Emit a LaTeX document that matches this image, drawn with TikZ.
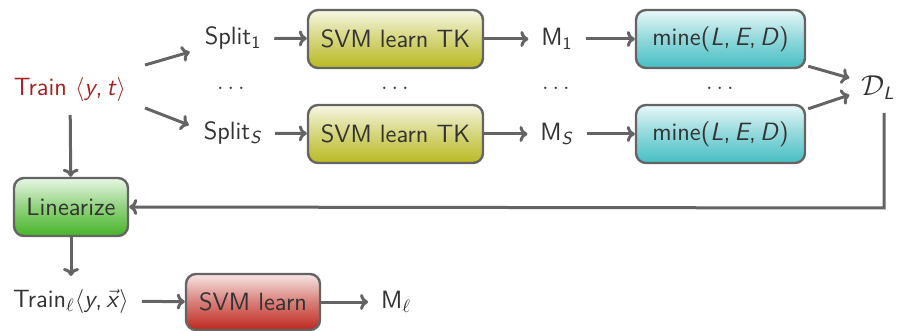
\documentclass[tikz,border=0pt]{standalone}
\usetikzlibrary{arrows.meta}
\renewcommand{\familydefault}{\sfdefault}
\definecolor{txt}{RGB}{51,51,51}
\definecolor{ln}{RGB}{100,100,100}
\definecolor{trainred}{RGB}{165,35,30}
\definecolor{yel}{RGB}{185,185,35}
\definecolor{cya}{RGB}{70,190,195}
\definecolor{grn}{RGB}{70,180,40}
\definecolor{rd}{RGB}{190,40,30}
\tikzset{
  lbl/.style={text=txt, inner sep=0pt, outer sep=6.5pt},
  dotlbl/.style={text=txt, inner sep=0pt},
  boxbase/.style={draw=ln, line width=1.2pt, rounded corners=5pt, text=txt, inner sep=0pt},
  yelbox/.style={boxbase, minimum width=87.5pt, minimum height=29pt, top color=yel!12, bottom color=yel, middle color=yel!60},
  cyabox/.style={boxbase, minimum width=84.5pt, minimum height=29pt, top color=cya!12, bottom color=cya, middle color=cya!60},
  grnbox/.style={boxbase, minimum width=57pt, minimum height=29pt, top color=grn!12, bottom color=grn, middle color=grn!60},
  rdbox/.style={boxbase, minimum width=67pt, minimum height=28pt, top color=rd!12, bottom color=rd, middle color=rd!60},
  arr/.style={draw=ln, line width=1.5pt, -{To[length=4pt,width=8pt]}},
}
\begin{document}
\begin{tikzpicture}[x=0.5pt,y=-0.5pt,font=\fontsize{12.5}{15}\selectfont]
\useasboundingbox (0,0) rectangle (899,331);
\node[lbl, text=trainred] (train) at (70,90) {Train $\langle$\textit{y},\,\textit{t}$\rangle$};
\node[lbl] (s1) at (233,38) {Split\textsubscript{1}};
\node[lbl] (sS) at (233,133) {Split\textsubscript{\textit{S}}};
\node[yelbox] (svm1) at (395.5,39) {SVM learn TK};
\node[yelbox] (svmS) at (395.5,134) {SVM learn TK};
\node[lbl] (m1) at (557,39) {M\textsubscript{1}};
\node[lbl] (mS) at (557,134) {M\textsubscript{\textit{S}}};
\node[cyabox] (mine1) at (720.5,39) {mine(\textit{L},\,\textit{E},\,\textit{D})};
\node[cyabox] (mineS) at (720.5,134) {mine(\textit{L},\,\textit{E},\,\textit{D})};
\node[lbl, font=\fontsize{14}{16}\selectfont] (dl) at (878,88) {$\mathcal{D}_{\textit{\small L}}$};
\node[dotlbl] (d1) at (231,88) {$\ldots$};
\node[dotlbl] (d2) at (395,88) {$\ldots$};
\node[dotlbl] (d3) at (556,88) {$\ldots$};
\node[dotlbl] (d4) at (720,88) {$\ldots$};
\node[grnbox] (lin) at (71,207) {Linearize};
\node[lbl] (trl) at (71,301) {Train$_\ell\langle$\textit{y},\,$\vec{\mbox{\textit{x}}}\rangle$};
\node[rdbox] (svml) at (253,302) {SVM learn};
\node[lbl] (ml) at (396,302) {M$_\ell$};
\coordinate (c) at (884,208);
\draw[arr] ([xshift=3pt,yshift=12.5pt]train.east) -- ([xshift=-1pt,yshift=-7pt]s1.west);
\draw[arr] ([xshift=3pt,yshift=-9pt]train.east) -- ([xshift=-1pt,yshift=4pt]sS.west);
\draw[arr] (s1) -- (svm1);
\draw[arr] (sS) -- (svmS);
\draw[arr] (svm1) -- (m1);
\draw[arr] (svmS) -- (mS);
\draw[arr] (m1) -- (mine1);
\draw[arr] (mS) -- (mineS);
\draw[arr] ([xshift=1pt,yshift=1.5pt]mine1.south east) -- ([xshift=0.5pt,yshift=5pt]dl.west);
\draw[arr] ([xshift=1pt,yshift=-2.5pt]mineS.north east) -- ([xshift=0.5pt,yshift=-3.5pt]dl.west);
\draw[arr] (train) -- (lin);
\draw[arr] (dl.south -| c) -- (c) -- (lin.east);
\draw[arr] (lin) -- (trl);
\draw[arr] (trl) -- (svml);
\draw[arr] (svml) -- (ml);
\end{tikzpicture}
\end{document}
